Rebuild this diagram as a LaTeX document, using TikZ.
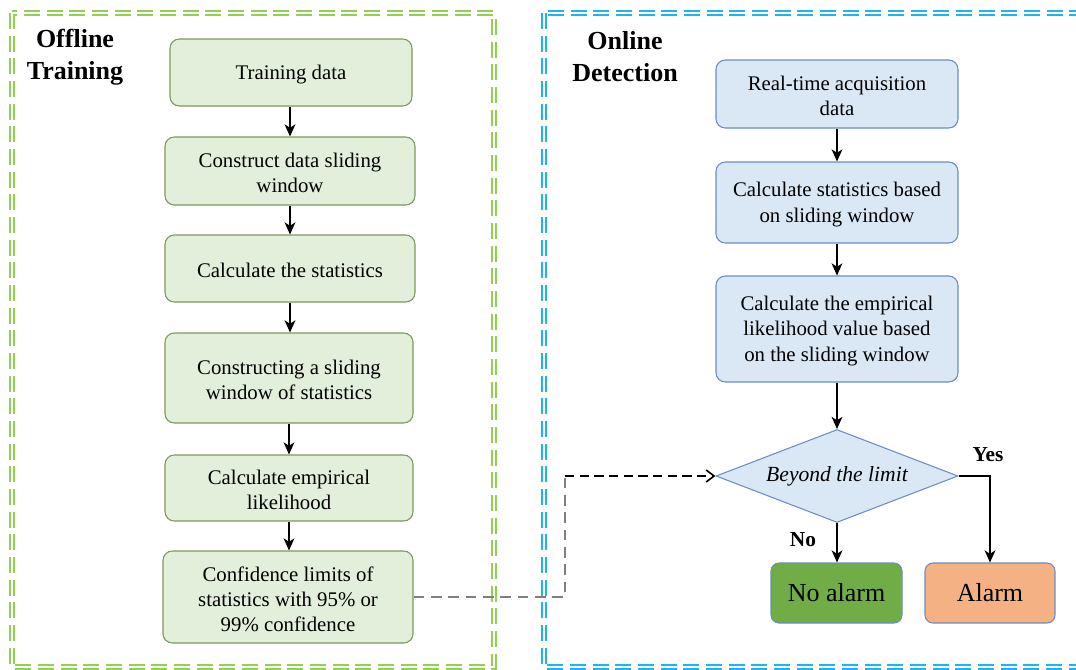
\documentclass[tikz,border=0pt]{standalone}
\usepackage{fontspec}
\setmainfont{Liberation Serif}
\usetikzlibrary{shapes.geometric,arrows.meta,fit}
\definecolor{gfill}{HTML}{E2EFDA}
\definecolor{gdraw}{HTML}{7C9A5C}
\definecolor{bfill}{HTML}{DAE8F6}
\definecolor{bdraw}{HTML}{6C8EBF}
\definecolor{gframe}{HTML}{92D050}
\definecolor{bframe}{HTML}{1CB5F0}
\definecolor{noal}{HTML}{70AD47}
\definecolor{al}{HTML}{F4B183}
\definecolor{conn}{HTML}{7F7F7F}
\tikzset{
  gbox/.style={draw=gdraw, fill=gfill, rounded corners=7pt, inner sep=0pt, line width=0.8pt},
  bbox/.style={draw=bdraw, fill=bfill, rounded corners=7pt, inner sep=0pt, line width=0.8pt},
  txt/.style={font=\fontsize{15.6}{18.8}\selectfont, align=center, yshift=-1.5pt},
  frame/.style={line width=1.3pt, double=white, double distance=1.4pt, dash pattern=on 12pt off 5pt},
  arr/.style={line width=1.7pt, -{Stealth[length=9pt,width=8pt,inset=2.5pt]}},
  ttl/.style={font=\fontsize{19.5}{24}\selectfont\bfseries, align=center},
  lbl/.style={font=\fontsize{16}{18}\selectfont\bfseries}
}
\begin{document}
\begin{tikzpicture}[x=0.75pt,y=-0.75pt]
\useasboundingbox (0,0) rectangle (1076,669);
% frames
\draw[frame, draw=gframe] (12,13) rectangle (494,667);
\draw[frame, draw=bframe] (544,13) rectangle (1090,667);
\node[ttl] (t1) at (75,57) {Offline\\Training};
\node[ttl] (t2) at (625,57) {Online\\Detection};
% left column
\node[gbox, fit={(170,39)(412,106)}] (l1) {};
\node[txt] (l1t) at (l1.center) {Training data};
\node[gbox, fit={(165,137)(415,205)}] (l2) {};
\node[txt] (l2t) at (l2.center) {Construct data sliding\\window};
\node[gbox, fit={(165,235)(415,302)}] (l3) {};
\node[txt] (l3t) at (l3.center) {Calculate the statistics};
\node[gbox, fit={(165,333)(413,423)}] (l4) {};
\node[txt] (l4t) at (l4.center) {Constructing a sliding\\window of statistics};
\node[gbox, fit={(165,455)(413,521)}] (l5) {};
\node[txt] (l5t) at (l5.center) {Calculate empirical\\likelihood};
\node[gbox, fit={(163,551)(413,643)}] (l6) {};
\node[txt] (l6t) at (l6.center) {Confidence limits of\\statistics with 95\% or\\99\% confidence};
% right column
\node[bbox, fit={(716,60)(958,128)}] (r1) {};
\node[txt] (r1t) at (r1.center) {Real-time acquisition\\data};
\node[bbox, fit={(716,162)(958,243)}] (r2) {};
\node[txt] (r2t) at (r2.center) {Calculate statistics based\\on sliding window};
\node[bbox, fit={(716,276)(958,382)}] (r3) {};
\node[txt] (r3t) at (r3.center) {Calculate the empirical\\likelihood value based\\on the sliding window};
\node[diamond, draw=bdraw, fill=bfill, line width=0.8pt, inner sep=0pt, shape aspect=2.6,
  minimum width=181.5pt, minimum height=69.75pt, font=\fontsize{16.2}{18}\selectfont\itshape] (d) at (837,476) {Beyond the limit};
\node[draw=bdraw, fill=noal, rounded corners=6pt, line width=0.8pt, inner sep=0pt, fit={(771,563)(902,623)}] (na) {};
\node[font=\fontsize{19.5}{22}\selectfont] (nat) at (na.center) {No alarm};
\node[draw=bdraw, fill=al, rounded corners=6pt, line width=0.8pt, inner sep=0pt, fit={(925,563)(1055,623)}] (a) {};
\node[font=\fontsize{19.5}{22}\selectfont] (at) at (a.center) {Alarm};
% arrows left
\draw[arr] (l1.south -| 290,0) -- (l2.north -| 290,0);
\draw[arr] (l2.south -| 290,0) -- (l3.north -| 290,0);
\draw[arr] (l3.south -| 290,0) -- (l4.north -| 290,0);
\draw[arr] (l4.south -| 289,0) -- (l5.north -| 289,0);
\draw[arr] (l5.south -| 289,0) -- (l6.north -| 289,0);
% arrows right
\draw[arr] (r1.south -| 837,0) -- (r2.north -| 837,0);
\draw[arr] (r2.south -| 837,0) -- (r3.north -| 837,0);
\draw[arr] (r3.south -| 837,0) -- (d.north);
\draw[arr] (d.south) -- (na.north -| d.south);
\draw[arr] (d.east) -| (a.north -| 990,0);
\node[lbl] (yes) at (988,455) {Yes};
\node[lbl] (no) at (803,540) {No};
% dashed connector
\coordinate (c1) at (565,597);
\coordinate (c2) at (565,476);
\draw[conn, line width=2pt, dash pattern=on 8pt off 5pt] (l6.east |- 0,597) -- (c1) -- (c2);
\draw[black, line width=1.2pt, dash pattern=on 7pt off 4pt, -{Straight Barb[length=6pt,width=9pt]}] (c2) -- (d.west);
\end{tikzpicture}
\end{document}
